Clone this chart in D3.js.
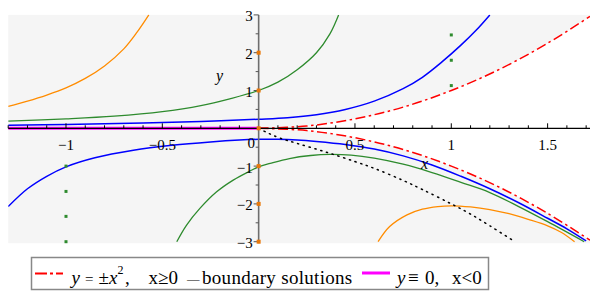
<!DOCTYPE html>
<html><head><meta charset="utf-8">
<script src="https://cdn.jsdelivr.net/npm/d3@7"></script>
<style>
html,body{margin:0;padding:0;background:#fff;}
svg{display:block;font-family:"Liberation Serif","Times New Roman",serif;}
</style></head>
<body>
<svg id="chart" width="596" height="298"></svg>
<script>
// ---- data ----
const xDomain = [-1.3, 1.72];
const yDomain = [-3, 3];
const xTickValues = [-1, -0.5, 0, 0.5, 1, 1.5];
const xTickLabels = ["\u22121", "\u22120.5", "0", "0.5", "1", "1.5"];
const yTickValues = [-3, -2, -1, 1, 2, 3];
const yTickLabels = ["\u22123", "\u22122", "\u22121", "1", "2", "3"];

const boundaryUpper = [[0,0],[0.25,0.06],[0.5,0.25],[0.75,0.56],[1,1],[1.25,1.56],[1.5,2.25],[1.72,2.96]];
const boundaryLower = [[0,0],[0.25,-0.06],[0.5,-0.25],[0.75,-0.56],[1,-1],[1.25,-1.56],[1.5,-2.25],[1.72,-2.96]];
const zeroSolution = [[-1.3,0],[0,0]];

const blueUpper = [[-1.3,0.08],[-1.0,0.10],[-0.6,0.14],[-0.3,0.18],[0,0.24],[0.15,0.28],[0.3,0.36],[0.45,0.5],[0.6,0.72],[0.75,1.05],[0.85,1.35],[0.95,1.75],[1.05,2.2],[1.13,2.6],[1.2,3.0]];
const greenUpper = [[-1.3,0.19],[-1.0,0.25],[-0.75,0.32],[-0.5,0.44],[-0.3,0.6],[-0.15,0.78],[0,1.0],[0.1,1.22],[0.2,1.55],[0.3,2.0],[0.37,2.5],[0.415,3.0]];
const orangeUpper = [[-1.3,0.58],[-1.2,0.72],[-1.1,0.88],[-1.0,1.07],[-0.9,1.32],[-0.8,1.65],[-0.7,2.1],[-0.63,2.55],[-0.57,3.0]];
const blueLower = [[-1.3,-2.07],[-1.2,-1.6],[-1.1,-1.27],[-1.0,-1.02],[-0.85,-0.78],[-0.65,-0.58],[-0.45,-0.45],[-0.25,-0.36],[-0.1,-0.31],[0,-0.29],[0.1,-0.29],[0.2,-0.31],[0.3,-0.35],[0.45,-0.43],[0.6,-0.55],[0.75,-0.73],[0.9,-0.97],[1.05,-1.27],[1.2,-1.6],[1.35,-1.97],[1.5,-2.38],[1.6,-2.66],[1.70,-2.98]];
const greenLower = [[-0.425,-3.0],[-0.374,-2.56],[-0.305,-2.12],[-0.218,-1.68],[-0.132,-1.37],[-0.045,-1.13],[0,-1.02],[0.06,-0.93],[0.16,-0.8],[0.27,-0.72],[0.37,-0.69],[0.48,-0.71],[0.6,-0.79],[0.75,-0.95],[0.9,-1.17],[1.05,-1.43],[1.2,-1.7],[1.35,-2.07],[1.5,-2.47],[1.69,-3.0]];
const orangeLower = [[0.62,-3.0],[0.68,-2.6],[0.77,-2.29],[0.85,-2.14],[0.93,-2.07],[1.0,-2.05],[1.1,-2.08],[1.2,-2.15],[1.3,-2.26],[1.4,-2.41],[1.5,-2.58],[1.57,-2.75],[1.64,-3.0]];
const extremaLocus = [[0,0],[0.05,-0.13],[0.111,-0.26],[0.2,-0.4],[0.35,-0.63],[0.5,-0.88],[0.6,-1.06],[0.75,-1.38],[0.85,-1.62],[1.0,-2.0],[1.1,-2.27],[1.2,-2.58],[1.33,-3.0]];

const orangePoints = [[0,2],[0,1],[0,0],[0,-1],[0,-2],[0,-3]];
const greenPoints = [[1,2.47],[1,1.8],[1,1.13],[-1,-1],[-1,-1.67],[-1,-2.33],[-1,-3]];

const legendLabels = ["boundary solutions", "y \u2261 0,  x<0"];

// ---- drawing ----
const svg = d3.select("#chart");
const x = d3.scaleLinear().domain(xDomain).range([8.2, 590]);
const y = d3.scaleLinear().domain(yDomain).range([241.7, 14.9]);
const C = {blue:"#0000ff", green:"#2e8b2e", orange:"#ff8c00", red:"#ff0000", magenta:"#ff00ff"};
const DASHDOT = "10,3.5,2.5,3.5";

svg.append("defs").append("clipPath").attr("id","clip")
  .append("rect").attr("x",x(xDomain[0])).attr("y",y(3)-0.5)
  .attr("width",x(xDomain[1])-x(xDomain[0])).attr("height",y(-3)-y(3)+2);

svg.append("rect").attr("x",x(xDomain[0])).attr("y",y(3))
  .attr("width",x(xDomain[1])-x(xDomain[0])).attr("height",y(-3)-y(3)+1.5)
  .attr("fill","#f5f5f5");

const g = svg.append("g").attr("clip-path","url(#clip)");
const line = d3.line().x(d=>x(d[0])).y(d=>y(d[1])).curve(d3.curveCatmullRom.alpha(0.5));

// white region between the boundary solutions y = ±x^2
const area = d3.area().x(d=>x(d[0])).y0(d=>y(-d[1])).y1(d=>y(d[1])).curve(d3.curveCatmullRom.alpha(0.5));
g.append("path").attr("d", area(boundaryUpper)).attr("fill","#ffffff");

function curve(data, color, w, dash){
  const p = g.append("path").attr("d", line(data)).attr("fill","none")
    .attr("stroke", color).attr("stroke-width", w);
  if (dash) p.attr("stroke-dasharray", dash);
  return p;
}
curve(orangeUpper, C.orange, 1.3);
curve(greenUpper, C.green, 1.3);
curve(blueUpper, C.blue, 1.5);
curve(orangeLower, C.orange, 1.3);
curve(greenLower, C.green, 1.3);
curve(blueLower, C.blue, 1.5);
curve(extremaLocus, "#000", 1.5, "1.2,4.8").attr("stroke-linecap","round");
curve(boundaryUpper, C.red, 1.5, DASHDOT);
curve(boundaryLower, C.red, 1.5, DASHDOT);
g.append("path").attr("d", d3.line().x(d=>x(d[0])).y(d=>y(d[1]))(zeroSolution))
  .attr("stroke", C.magenta).attr("stroke-width", 3).attr("fill","none");

// axes
const axG = svg.append("g");
axG.append("line").attr("x1",x(xDomain[0])).attr("x2",x(xDomain[1])).attr("y1",y(0)).attr("y2",y(0))
  .attr("stroke","#000").attr("stroke-width",1.2);
const xMinor = d3.range(-13, 18).map(i=>i/10).filter(v=>Math.abs(v*2-Math.round(v*2))>1e-6);
axG.selectAll(".xmin").data(xMinor).join("line")
  .attr("x1",d=>x(d)).attr("x2",d=>x(d)).attr("y1",y(0)).attr("y2",y(0)-3)
  .attr("stroke","#000").attr("stroke-width",1);
axG.selectAll(".xmaj").data(xTickValues.filter(v=>v!==0)).join("line")
  .attr("x1",d=>x(d)).attr("x2",d=>x(d)).attr("y1",y(0)).attr("y2",y(0)-5)
  .attr("stroke","#000").attr("stroke-width",1);
axG.selectAll(".xlab").data(xTickValues).join("text")
  .attr("x",(d)=> d===0 ? x(0)-7.5 : x(d)).attr("y", (d)=> d===0 ? 148 : 150)
  .attr("text-anchor","middle").attr("font-size",15).attr("fill","#000")
  .text((d,i)=>xTickLabels[i]);

axG.append("line").attr("x1",x(0)).attr("x2",x(0)).attr("y1",y(3)).attr("y2",y(-3)+1.5)
  .attr("stroke","#6e6e6e").attr("stroke-width",1.6);
const yMinor = [-2.5,-1.5,-0.5,0.5,1.5,2.5];
axG.selectAll(".ymin").data(yMinor).join("line")
  .attr("x1",x(0)).attr("x2",x(0)-3).attr("y1",d=>y(d)).attr("y2",d=>y(d))
  .attr("stroke","#555").attr("stroke-width",1);
axG.selectAll(".ymaj").data(yTickValues).join("line")
  .attr("x1",x(0)).attr("x2",x(0)-5).attr("y1",d=>y(d)).attr("y2",d=>y(d))
  .attr("stroke","#555").attr("stroke-width",1);
axG.selectAll(".ylab").data(yTickValues).join("text")
  .attr("x",x(0)-6).attr("y",d=>y(d)+6.5)
  .attr("text-anchor","end").attr("font-size",15).attr("fill","#000")
  .text((d,i)=>yTickLabels[i]);

axG.append("text").attr("x",216).attr("y",81).attr("font-style","italic").attr("font-size",16).text("y");
axG.append("text").attr("x",421).attr("y",169).attr("font-style","italic").attr("font-size",16).text("x");

// points
svg.selectAll(".op").data(orangePoints).join("rect")
  .attr("x",d=>x(d[0])-2).attr("y",d=>y(d[1])-2).attr("width",4).attr("height",4)
  .attr("fill","#e8790c");
svg.selectAll(".gp").data(greenPoints).join("rect")
  .attr("x",d=>x(d[0])-1.5).attr("y",d=>y(d[1])-1.5).attr("width",3).attr("height",3)
  .attr("fill","#2e8b2e");

// legend
const lg = svg.append("g").attr("font-size",19);
lg.append("rect").attr("x",31.5).attr("y",257.5).attr("width",457).attr("height",32)
  .attr("fill","#fff").attr("stroke","#888").attr("stroke-width",1.5);
lg.append("line").attr("x1",35).attr("x2",63).attr("y1",273.5).attr("y2",273.5)
  .attr("stroke",C.red).attr("stroke-width",1.8).attr("stroke-dasharray","12,3,3,3");
const LB = 284;
function piece(px, txt, opts){
  const t = lg.append("text").attr("x",px).attr("y",LB).text(txt);
  if (opts && opts.italic) t.attr("font-style","italic");
  if (opts && opts.size) t.attr("font-size",opts.size);
  if (opts && opts.dy) t.attr("y",LB+opts.dy);
  if (opts && opts.ls) t.attr("letter-spacing",opts.ls);
  return t;
}
piece(71.5, "y", {italic:true});
piece(85, "=", {size:15});
piece(98.5, "\u00B1");
piece(109, "x", {italic:true});
piece(117.5, "2", {size:12, dy:-10});
piece(125, ",");
piece(148.5, "x\u22650");
piece(187, "\u2014", {size:12.5, dy:-1});
piece(202, legendLabels[0], {ls:0.3});
lg.append("line").attr("x1",362).attr("x2",390).attr("y1",273).attr("y2",273)
  .attr("stroke",C.magenta).attr("stroke-width",3);
piece(397, "y", {italic:true});
piece(408, "\u2261");
piece(425, "0,");
piece(452, "x<0");
</script>
</body></html>
